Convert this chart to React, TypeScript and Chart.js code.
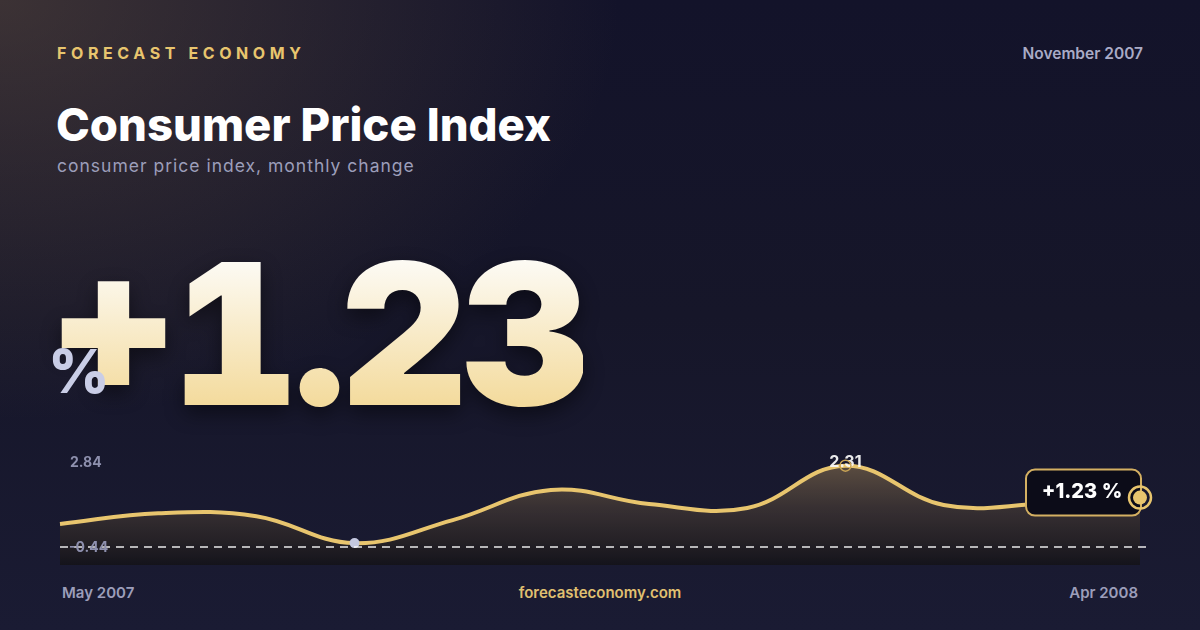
import React, { useEffect, useRef } from "react";
import Chart from "chart.js/auto";

const months = [
  "May 2007", "Jun 2007", "Jul 2007", "Aug 2007", "Sep 2007", "Oct 2007",
  "Nov 2007", "Dec 2007", "Jan 2008", "Feb 2008", "Mar 2008", "Apr 2008",
];
const cpiValues = [0.34, 0.70, 0.60, -0.31, 0.47, 1.49, 1.01, 0.88, 2.31, 0.98, 1.02, 1.23];
const axisLabels = [2.84, -0.44];
const scaleMin = -1.05;
const reportMonth = "November 2007";

const GOLD = "#e8c56e";

const markerPlugin = {
  id: "markers",
  afterDatasetsDraw(chart: any) {
    const { ctx, chartArea, scales } = chart;
    const pts = chart.getDatasetMeta(0).data;
    ctx.save();

    // dashed reference line
    const refY = scales.y.getPixelForValue(axisLabels[1]);
    ctx.strokeStyle = "rgba(255,255,255,0.9)";
    ctx.lineWidth = 1.5;
    ctx.setLineDash([8, 6]);
    ctx.beginPath();
    ctx.moveTo(chartArea.left, refY);
    ctx.lineTo(chartArea.right + 6, refY);
    ctx.stroke();
    ctx.setLineDash([]);

    // axis labels
    ctx.font = "700 14px Inter";
    ctx.fillStyle = "#8e90ae";
    ctx.textAlign = "left";
    ctx.textBaseline = "alphabetic";
    ctx.fillText(axisLabels[0].toFixed(2), 70, chartArea.top + 17);
    ctx.fillText(axisLabels[1].toFixed(2), 69, refY + 5);

    // max label
    let maxIdx = 0;
    cpiValues.forEach((v, i) => { if (v > cpiValues[maxIdx]) maxIdx = i; });
    const mp = pts[maxIdx];
    ctx.font = "700 16px Inter";
    ctx.fillStyle = "rgba(245,245,245,0.95)";
    ctx.textAlign = "center";
    ctx.fillText(cpiValues[maxIdx].toFixed(2), mp.x, mp.y + 1);
    ctx.strokeStyle = "#c9a455";
    ctx.lineWidth = 1.5;
    ctx.beginPath();
    ctx.arc(mp.x, mp.y, 5.5, 0, Math.PI * 2);
    ctx.stroke();

    // last value callout
    const last = pts[pts.length - 1];
    const lastVal = cpiValues[cpiValues.length - 1];
    const bw = 115, bh = 46;
    const bx = last.x - bw + 1, by = last.y - 28;
    ctx.beginPath();
    ctx.roundRect(bx, by, bw, bh, 9);
    ctx.fillStyle = "#0c0c18";
    ctx.fill();
    ctx.strokeStyle = "#d4b062";
    ctx.lineWidth = 2;
    ctx.stroke();
    ctx.font = "800 20px Inter";
    ctx.fillStyle = "#ffffff";
    ctx.textAlign = "center";
    ctx.fillText("+" + lastVal.toFixed(2) + " %", bx + 56, by + 28);

    ctx.beginPath();
    ctx.arc(last.x, last.y, 11, 0, Math.PI * 2);
    ctx.strokeStyle = GOLD;
    ctx.lineWidth = 2.5;
    ctx.stroke();
    ctx.beginPath();
    ctx.arc(last.x, last.y, 7, 0, Math.PI * 2);
    ctx.fillStyle = GOLD;
    ctx.fill();
    ctx.restore();
  },
};

function CpiChart() {
  const chartRef = useRef<HTMLCanvasElement | null>(null);

  useEffect(() => {
    if (!chartRef.current) return;
    let minIdx = 0;
    cpiValues.forEach((v, i) => { if (v < cpiValues[minIdx]) minIdx = i; });

    const chart = new Chart(chartRef.current, {
      type: "line",
      data: {
        labels: months,
        datasets: [
          {
            data: cpiValues,
            borderColor: GOLD,
            borderWidth: 4,
            tension: 0.4,
            fill: "start",
            clip: false,
            backgroundColor: (c: any) => {
              const { ctx, chartArea } = c.chart;
              if (!chartArea) return "rgba(0,0,0,0)";
              const g = ctx.createLinearGradient(0, chartArea.top, 0, chartArea.bottom);
              g.addColorStop(0, "rgba(125,104,76,0.8)");
              g.addColorStop(0.5, "rgba(66,56,52,0.75)");
              g.addColorStop(1, "rgba(20,19,25,0.9)");
              return g;
            },
            pointRadius: (c: any) => (c.dataIndex === minIdx ? 5 : 0),
            pointBackgroundColor: "#c4c8e0",
            pointBorderWidth: 0,
            pointHoverRadius: 0,
          },
        ],
      },
      options: {
        animation: false,
        responsive: true,
        maintainAspectRatio: false,
        layout: { padding: { left: 60, right: 60, top: 20, bottom: 15 } },
        plugins: { legend: { display: false }, tooltip: { enabled: false } },
        scales: {
          x: { display: false },
          y: { display: false, min: scaleMin, max: axisLabels[0] },
        },
      },
      plugins: [markerPlugin],
    });

    return () => {
      chart.destroy();
    };
  }, []);

  return (
    <div style={{ position: "absolute", left: 0, top: 430, width: 1200, height: 150 }}>
      <canvas ref={chartRef} />
    </div>
  );
}

export default function App() {
  const font = "Inter, 'Noto Sans', sans-serif";
  return (
    <div
      style={{
        position: "absolute",
        left: 0,
        top: 0,
        width: 1200,
        height: 630,
        overflow: "hidden",
        fontFamily: font,
        background:
          "radial-gradient(ellipse 620px 420px at 0% 0%, rgba(110,88,66,0.45), rgba(110,88,66,0) 100%), linear-gradient(180deg, #13132a 0%, #161629 50%, #1a1b33 100%)",
      }}
    >
      <div style={{ position: "absolute", left: 57, top: 45, fontSize: 16, lineHeight: 1, fontWeight: 700, letterSpacing: 4.6, color: GOLD }}>
        FORECAST ECONOMY
      </div>
      <div style={{ position: "absolute", right: 57, top: 46, fontSize: 15.5, lineHeight: 1, fontWeight: 600, color: "#a9abc6" }}>
        {reportMonth}
      </div>
      <div style={{ position: "absolute", left: 56, top: 102, fontSize: 45.5, lineHeight: 1, fontWeight: 800, color: "#ffffff" }}>
        Consumer Price Index
      </div>
      <div style={{ position: "absolute", left: 57, top: 157, fontSize: 17.5, lineHeight: 1, fontWeight: 400, letterSpacing: 1, color: "#9c9eba" }}>
        consumer price index, monthly change
      </div>
      <div
        style={{
          position: "absolute",
          left: 50,
          top: 235,
          fontSize: 197,
          lineHeight: 1,
          fontWeight: 900,
          letterSpacing: -5.5,
          fontFeatureSettings: '"tnum", "case"',
          background: "linear-gradient(180deg, #fdfcf8 10%, #f3d998 90%)",
          WebkitBackgroundClip: "text",
          backgroundClip: "text",
          color: "transparent",
          filter: "drop-shadow(0 8px 10px rgba(0,0,0,0.45))",
        }}
      >
        {"+" + cpiValues[cpiValues.length - 1].toFixed(2)}
      </div>
      <div style={{ position: "absolute", left: 48, top: 341, fontSize: 60, lineHeight: 1, fontWeight: 800, color: "#c9cde6" }}>
        %
      </div>
      <CpiChart />
      <div style={{ position: "absolute", left: 62, top: 585, fontSize: 15, lineHeight: 1, fontWeight: 600, color: "#9c9eba" }}>
        {months[0]}
      </div>
      <div style={{ position: "absolute", left: 0, width: 1200, textAlign: "center", top: 585, fontSize: 15, lineHeight: 1, fontWeight: 600, color: "#e0c070" }}>
        forecasteconomy.com
      </div>
      <div style={{ position: "absolute", right: 62, top: 585, fontSize: 15, lineHeight: 1, fontWeight: 600, color: "#9c9eba" }}>
        {months[months.length - 1]}
      </div>
    </div>
  );
}
